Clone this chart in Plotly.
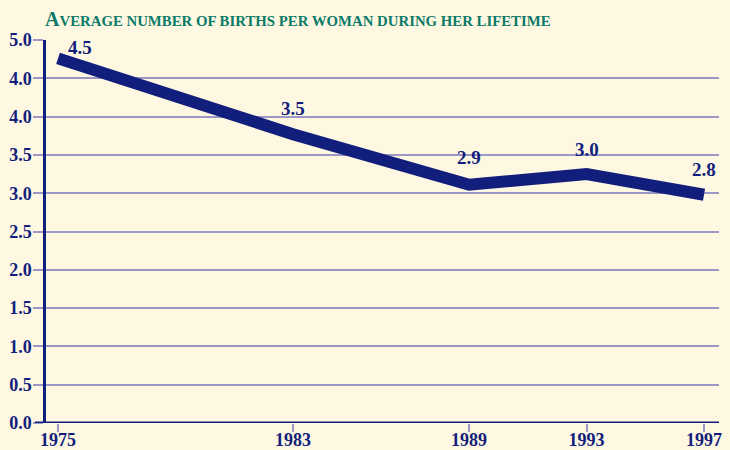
import plotly.graph_objects as go

years = [1975, 1983, 1989, 1993, 1997]
plotted = [4.76, 3.77, 3.11, 3.25, 2.98]
point_labels = ["4.5", "3.5", "2.9", "3.0", "2.8"]
y_ticks = [0.0, 0.5, 1.0, 1.5, 2.0, 2.5, 3.0, 3.5, 4.0, 4.5, 5.0]
y_ticktext = ["0.0", "0.5", "1.0", "1.5", "2.0", "2.5", "3.0", "3.5", "4.0", "4.0", "5.0"]
title_text = "AVERAGE NUMBER OF BIRTHS PER WOMAN DURING HER LIFETIME"

BG = "#FEF8E2"
NAVY = "#121E7C"
GRID = "#9C98C6"
TEAL = "#0B7A68"
FONT = "Liberation Serif"

fig = go.Figure()
fig.add_trace(go.Scatter(
    x=years, y=plotted, mode="lines",
    line=dict(color=NAVY, width=12),
    hoverinfo="skip", showlegend=False,
))

shifts = [(22, 11), (0, 26), (0, 27), (0, 25), (0, 25)]
for x, y, t, (dx, dy) in zip(years, plotted, point_labels, shifts):
    fig.add_annotation(x=x, y=y, text=f"<b>{t}</b>", showarrow=False,
                       xshift=dx, yshift=dy,
                       font=dict(family=FONT, size=19, color=NAVY))

title_html = ("<b><span style='font-size:20px'>" + title_text[0] + "</span>"
              + title_text[1:] + "</b>")
fig.add_annotation(xref="paper", yref="paper", x=-0.005, y=1 + 21 / 383,
                   xanchor="left", yanchor="middle", showarrow=False,
                   text=title_html,
                   font=dict(family=FONT, size=14.8, color=TEAL))

# baseline
fig.add_shape(type="line", xref="paper", yref="y", x0=-11 / 673, x1=1,
              y0=0, y1=0, line=dict(color=NAVY, width=3))

fig.update_layout(
    width=730, height=450,
    margin=dict(l=46, r=11, t=40, b=27, autoexpand=False),
    paper_bgcolor=BG, plot_bgcolor=BG,
    font=dict(family=FONT, color=NAVY),
)
fig.update_xaxes(
    range=[1974.59, 1997.51], tickvals=years,
    ticktext=[f"<b>{y}</b>" for y in years],
    ticks="outside", ticklen=8, tickcolor=GRID, tickwidth=1.5,
    showgrid=False, zeroline=False, showline=False, automargin=False,
    tickfont=dict(family=FONT, size=18, color=NAVY),
    ticklabelstandoff=-8,
)
fig.update_yaxes(
    range=[0, 5.0], tickvals=y_ticks,
    ticktext=[f"<b>{t}</b>" for t in y_ticktext],
    ticks="outside", ticklen=10, tickcolor=GRID, tickwidth=1.5,
    showgrid=True, gridcolor=GRID, gridwidth=1.5,
    zeroline=False, showline=True, linecolor=NAVY, linewidth=2.5,
    automargin=False,
    tickfont=dict(family=FONT, size=18, color=NAVY),
    ticklabelstandoff=-2,
)

fig.write_html("out.html", config={"displayModeBar": False},
               post_script="document.body.style.margin='0';document.body.style.padding='0';")
